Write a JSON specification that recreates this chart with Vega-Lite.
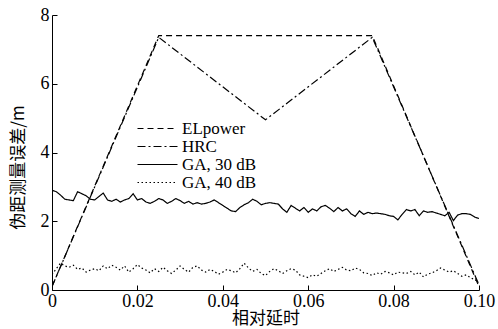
{
  "$schema": "https://vega.github.io/schema/vega-lite/v6.json",
  "width": 427,
  "height": 275,
  "autosize": {"type": "none"},
  "padding": {"left": 52, "top": 15, "right": 19, "bottom": 39},
  "background": "white",
  "config": {
    "view": {"stroke": null},
    "font": "Liberation Serif",
    "axis": {"grid": false, "domainColor": "black", "tickColor": "black", "labelColor": "black", "titleColor": "black", "labelFont": "Liberation Serif", "labelFontSize": 18, "titleFont": "Noto Sans CJK SC", "titleFontSize": 17, "titleFontWeight": "normal", "tickSize": -5, "domainWidth": 1, "tickWidth": 1}
  },
  "datasets": {
    "curves": [
      {"series": "ELpower", "delay": 0, "error": 0.1},
      {"series": "ELpower", "delay": 0.025, "error": 7.4},
      {"series": "ELpower", "delay": 0.075, "error": 7.4},
      {"series": "ELpower", "delay": 0.1, "error": 0.1},
      {"series": "HRC", "delay": 0, "error": 0.1},
      {"series": "HRC", "delay": 0.025, "error": 7.35},
      {"series": "HRC", "delay": 0.05, "error": 4.95},
      {"series": "HRC", "delay": 0.075, "error": 7.35},
      {"series": "HRC", "delay": 0.1, "error": 0.15},
      {"series": "GA, 30 dB", "delay": 0.000, "error": 2.90},
      {"series": "GA, 30 dB", "delay": 0.001, "error": 2.86},
      {"series": "GA, 30 dB", "delay": 0.002, "error": 2.76},
      {"series": "GA, 30 dB", "delay": 0.003, "error": 2.64},
      {"series": "GA, 30 dB", "delay": 0.004, "error": 2.62},
      {"series": "GA, 30 dB", "delay": 0.005, "error": 2.60},
      {"series": "GA, 30 dB", "delay": 0.006, "error": 2.86},
      {"series": "GA, 30 dB", "delay": 0.007, "error": 2.80},
      {"series": "GA, 30 dB", "delay": 0.008, "error": 2.74},
      {"series": "GA, 30 dB", "delay": 0.009, "error": 2.64},
      {"series": "GA, 30 dB", "delay": 0.010, "error": 2.62},
      {"series": "GA, 30 dB", "delay": 0.011, "error": 2.72},
      {"series": "GA, 30 dB", "delay": 0.012, "error": 2.82},
      {"series": "GA, 30 dB", "delay": 0.013, "error": 2.62},
      {"series": "GA, 30 dB", "delay": 0.014, "error": 2.58},
      {"series": "GA, 30 dB", "delay": 0.015, "error": 2.64},
      {"series": "GA, 30 dB", "delay": 0.016, "error": 2.56},
      {"series": "GA, 30 dB", "delay": 0.017, "error": 2.62},
      {"series": "GA, 30 dB", "delay": 0.018, "error": 2.66},
      {"series": "GA, 30 dB", "delay": 0.019, "error": 2.80},
      {"series": "GA, 30 dB", "delay": 0.020, "error": 2.62},
      {"series": "GA, 30 dB", "delay": 0.021, "error": 2.66},
      {"series": "GA, 30 dB", "delay": 0.022, "error": 2.56},
      {"series": "GA, 30 dB", "delay": 0.023, "error": 2.52},
      {"series": "GA, 30 dB", "delay": 0.024, "error": 2.58},
      {"series": "GA, 30 dB", "delay": 0.025, "error": 2.66},
      {"series": "GA, 30 dB", "delay": 0.026, "error": 2.62},
      {"series": "GA, 30 dB", "delay": 0.027, "error": 2.52},
      {"series": "GA, 30 dB", "delay": 0.028, "error": 2.58},
      {"series": "GA, 30 dB", "delay": 0.029, "error": 2.66},
      {"series": "GA, 30 dB", "delay": 0.030, "error": 2.60},
      {"series": "GA, 30 dB", "delay": 0.031, "error": 2.52},
      {"series": "GA, 30 dB", "delay": 0.032, "error": 2.58},
      {"series": "GA, 30 dB", "delay": 0.033, "error": 2.50},
      {"series": "GA, 30 dB", "delay": 0.034, "error": 2.54},
      {"series": "GA, 30 dB", "delay": 0.035, "error": 2.50},
      {"series": "GA, 30 dB", "delay": 0.036, "error": 2.52},
      {"series": "GA, 30 dB", "delay": 0.037, "error": 2.56},
      {"series": "GA, 30 dB", "delay": 0.038, "error": 2.62},
      {"series": "GA, 30 dB", "delay": 0.039, "error": 2.54},
      {"series": "GA, 30 dB", "delay": 0.040, "error": 2.46},
      {"series": "GA, 30 dB", "delay": 0.041, "error": 2.38},
      {"series": "GA, 30 dB", "delay": 0.042, "error": 2.30},
      {"series": "GA, 30 dB", "delay": 0.043, "error": 2.28},
      {"series": "GA, 30 dB", "delay": 0.044, "error": 2.40},
      {"series": "GA, 30 dB", "delay": 0.045, "error": 2.48},
      {"series": "GA, 30 dB", "delay": 0.046, "error": 2.54},
      {"series": "GA, 30 dB", "delay": 0.047, "error": 2.64},
      {"series": "GA, 30 dB", "delay": 0.048, "error": 2.58},
      {"series": "GA, 30 dB", "delay": 0.049, "error": 2.48},
      {"series": "GA, 30 dB", "delay": 0.050, "error": 2.52},
      {"series": "GA, 30 dB", "delay": 0.051, "error": 2.54},
      {"series": "GA, 30 dB", "delay": 0.052, "error": 2.52},
      {"series": "GA, 30 dB", "delay": 0.053, "error": 2.50},
      {"series": "GA, 30 dB", "delay": 0.054, "error": 2.36},
      {"series": "GA, 30 dB", "delay": 0.055, "error": 2.26},
      {"series": "GA, 30 dB", "delay": 0.056, "error": 2.46},
      {"series": "GA, 30 dB", "delay": 0.057, "error": 2.38},
      {"series": "GA, 30 dB", "delay": 0.058, "error": 2.30},
      {"series": "GA, 30 dB", "delay": 0.059, "error": 2.40},
      {"series": "GA, 30 dB", "delay": 0.060, "error": 2.26},
      {"series": "GA, 30 dB", "delay": 0.061, "error": 2.36},
      {"series": "GA, 30 dB", "delay": 0.062, "error": 2.30},
      {"series": "GA, 30 dB", "delay": 0.063, "error": 2.42},
      {"series": "GA, 30 dB", "delay": 0.064, "error": 2.46},
      {"series": "GA, 30 dB", "delay": 0.065, "error": 2.38},
      {"series": "GA, 30 dB", "delay": 0.066, "error": 2.28},
      {"series": "GA, 30 dB", "delay": 0.067, "error": 2.40},
      {"series": "GA, 30 dB", "delay": 0.068, "error": 2.30},
      {"series": "GA, 30 dB", "delay": 0.069, "error": 2.36},
      {"series": "GA, 30 dB", "delay": 0.070, "error": 2.22},
      {"series": "GA, 30 dB", "delay": 0.071, "error": 2.14},
      {"series": "GA, 30 dB", "delay": 0.072, "error": 2.30},
      {"series": "GA, 30 dB", "delay": 0.073, "error": 2.20},
      {"series": "GA, 30 dB", "delay": 0.074, "error": 2.26},
      {"series": "GA, 30 dB", "delay": 0.075, "error": 2.22},
      {"series": "GA, 30 dB", "delay": 0.076, "error": 2.24},
      {"series": "GA, 30 dB", "delay": 0.077, "error": 2.22},
      {"series": "GA, 30 dB", "delay": 0.078, "error": 2.20},
      {"series": "GA, 30 dB", "delay": 0.079, "error": 2.16},
      {"series": "GA, 30 dB", "delay": 0.080, "error": 2.14},
      {"series": "GA, 30 dB", "delay": 0.081, "error": 2.04},
      {"series": "GA, 30 dB", "delay": 0.082, "error": 2.20},
      {"series": "GA, 30 dB", "delay": 0.083, "error": 2.34},
      {"series": "GA, 30 dB", "delay": 0.084, "error": 2.30},
      {"series": "GA, 30 dB", "delay": 0.085, "error": 2.34},
      {"series": "GA, 30 dB", "delay": 0.086, "error": 2.16},
      {"series": "GA, 30 dB", "delay": 0.087, "error": 2.30},
      {"series": "GA, 30 dB", "delay": 0.088, "error": 2.26},
      {"series": "GA, 30 dB", "delay": 0.089, "error": 2.28},
      {"series": "GA, 30 dB", "delay": 0.090, "error": 2.24},
      {"series": "GA, 30 dB", "delay": 0.091, "error": 2.20},
      {"series": "GA, 30 dB", "delay": 0.092, "error": 2.16},
      {"series": "GA, 30 dB", "delay": 0.093, "error": 2.26},
      {"series": "GA, 30 dB", "delay": 0.094, "error": 2.02},
      {"series": "GA, 30 dB", "delay": 0.095, "error": 2.18},
      {"series": "GA, 30 dB", "delay": 0.096, "error": 2.22},
      {"series": "GA, 30 dB", "delay": 0.097, "error": 2.22},
      {"series": "GA, 30 dB", "delay": 0.098, "error": 2.20},
      {"series": "GA, 30 dB", "delay": 0.099, "error": 2.12},
      {"series": "GA, 30 dB", "delay": 0.100, "error": 2.08},
      {"series": "GA, 40 dB", "delay": 0.000, "error": 0.45},
      {"series": "GA, 40 dB", "delay": 0.001, "error": 0.62},
      {"series": "GA, 40 dB", "delay": 0.002, "error": 0.78},
      {"series": "GA, 40 dB", "delay": 0.003, "error": 0.70},
      {"series": "GA, 40 dB", "delay": 0.004, "error": 0.66},
      {"series": "GA, 40 dB", "delay": 0.005, "error": 0.72},
      {"series": "GA, 40 dB", "delay": 0.006, "error": 0.60},
      {"series": "GA, 40 dB", "delay": 0.007, "error": 0.64},
      {"series": "GA, 40 dB", "delay": 0.008, "error": 0.52},
      {"series": "GA, 40 dB", "delay": 0.009, "error": 0.58},
      {"series": "GA, 40 dB", "delay": 0.010, "error": 0.62},
      {"series": "GA, 40 dB", "delay": 0.011, "error": 0.56},
      {"series": "GA, 40 dB", "delay": 0.012, "error": 0.70},
      {"series": "GA, 40 dB", "delay": 0.013, "error": 0.62},
      {"series": "GA, 40 dB", "delay": 0.014, "error": 0.72},
      {"series": "GA, 40 dB", "delay": 0.015, "error": 0.66},
      {"series": "GA, 40 dB", "delay": 0.016, "error": 0.58},
      {"series": "GA, 40 dB", "delay": 0.017, "error": 0.70},
      {"series": "GA, 40 dB", "delay": 0.018, "error": 0.52},
      {"series": "GA, 40 dB", "delay": 0.019, "error": 0.62},
      {"series": "GA, 40 dB", "delay": 0.020, "error": 0.74},
      {"series": "GA, 40 dB", "delay": 0.021, "error": 0.64},
      {"series": "GA, 40 dB", "delay": 0.022, "error": 0.58},
      {"series": "GA, 40 dB", "delay": 0.023, "error": 0.50},
      {"series": "GA, 40 dB", "delay": 0.024, "error": 0.62},
      {"series": "GA, 40 dB", "delay": 0.025, "error": 0.54},
      {"series": "GA, 40 dB", "delay": 0.026, "error": 0.66},
      {"series": "GA, 40 dB", "delay": 0.027, "error": 0.56},
      {"series": "GA, 40 dB", "delay": 0.028, "error": 0.48},
      {"series": "GA, 40 dB", "delay": 0.029, "error": 0.58},
      {"series": "GA, 40 dB", "delay": 0.030, "error": 0.70},
      {"series": "GA, 40 dB", "delay": 0.031, "error": 0.60},
      {"series": "GA, 40 dB", "delay": 0.032, "error": 0.52},
      {"series": "GA, 40 dB", "delay": 0.033, "error": 0.66},
      {"series": "GA, 40 dB", "delay": 0.034, "error": 0.70},
      {"series": "GA, 40 dB", "delay": 0.035, "error": 0.58},
      {"series": "GA, 40 dB", "delay": 0.036, "error": 0.52},
      {"series": "GA, 40 dB", "delay": 0.037, "error": 0.60},
      {"series": "GA, 40 dB", "delay": 0.038, "error": 0.54},
      {"series": "GA, 40 dB", "delay": 0.039, "error": 0.46},
      {"series": "GA, 40 dB", "delay": 0.040, "error": 0.52},
      {"series": "GA, 40 dB", "delay": 0.041, "error": 0.60},
      {"series": "GA, 40 dB", "delay": 0.042, "error": 0.56},
      {"series": "GA, 40 dB", "delay": 0.043, "error": 0.50},
      {"series": "GA, 40 dB", "delay": 0.044, "error": 0.62},
      {"series": "GA, 40 dB", "delay": 0.045, "error": 0.78},
      {"series": "GA, 40 dB", "delay": 0.046, "error": 0.64},
      {"series": "GA, 40 dB", "delay": 0.047, "error": 0.54},
      {"series": "GA, 40 dB", "delay": 0.048, "error": 0.60},
      {"series": "GA, 40 dB", "delay": 0.049, "error": 0.48},
      {"series": "GA, 40 dB", "delay": 0.050, "error": 0.42},
      {"series": "GA, 40 dB", "delay": 0.051, "error": 0.54},
      {"series": "GA, 40 dB", "delay": 0.052, "error": 0.62},
      {"series": "GA, 40 dB", "delay": 0.053, "error": 0.56},
      {"series": "GA, 40 dB", "delay": 0.054, "error": 0.48},
      {"series": "GA, 40 dB", "delay": 0.055, "error": 0.56},
      {"series": "GA, 40 dB", "delay": 0.056, "error": 0.62},
      {"series": "GA, 40 dB", "delay": 0.057, "error": 0.58},
      {"series": "GA, 40 dB", "delay": 0.058, "error": 0.44},
      {"series": "GA, 40 dB", "delay": 0.059, "error": 0.40},
      {"series": "GA, 40 dB", "delay": 0.060, "error": 0.36},
      {"series": "GA, 40 dB", "delay": 0.061, "error": 0.44},
      {"series": "GA, 40 dB", "delay": 0.062, "error": 0.40},
      {"series": "GA, 40 dB", "delay": 0.063, "error": 0.48},
      {"series": "GA, 40 dB", "delay": 0.064, "error": 0.56},
      {"series": "GA, 40 dB", "delay": 0.065, "error": 0.62},
      {"series": "GA, 40 dB", "delay": 0.066, "error": 0.54},
      {"series": "GA, 40 dB", "delay": 0.067, "error": 0.60},
      {"series": "GA, 40 dB", "delay": 0.068, "error": 0.66},
      {"series": "GA, 40 dB", "delay": 0.069, "error": 0.58},
      {"series": "GA, 40 dB", "delay": 0.070, "error": 0.56},
      {"series": "GA, 40 dB", "delay": 0.071, "error": 0.64},
      {"series": "GA, 40 dB", "delay": 0.072, "error": 0.60},
      {"series": "GA, 40 dB", "delay": 0.073, "error": 0.50},
      {"series": "GA, 40 dB", "delay": 0.074, "error": 0.48},
      {"series": "GA, 40 dB", "delay": 0.075, "error": 0.42},
      {"series": "GA, 40 dB", "delay": 0.076, "error": 0.50},
      {"series": "GA, 40 dB", "delay": 0.077, "error": 0.46},
      {"series": "GA, 40 dB", "delay": 0.078, "error": 0.54},
      {"series": "GA, 40 dB", "delay": 0.079, "error": 0.50},
      {"series": "GA, 40 dB", "delay": 0.080, "error": 0.44},
      {"series": "GA, 40 dB", "delay": 0.081, "error": 0.52},
      {"series": "GA, 40 dB", "delay": 0.082, "error": 0.50},
      {"series": "GA, 40 dB", "delay": 0.083, "error": 0.48},
      {"series": "GA, 40 dB", "delay": 0.084, "error": 0.54},
      {"series": "GA, 40 dB", "delay": 0.085, "error": 0.44},
      {"series": "GA, 40 dB", "delay": 0.086, "error": 0.52},
      {"series": "GA, 40 dB", "delay": 0.087, "error": 0.38},
      {"series": "GA, 40 dB", "delay": 0.088, "error": 0.46},
      {"series": "GA, 40 dB", "delay": 0.089, "error": 0.50},
      {"series": "GA, 40 dB", "delay": 0.090, "error": 0.56},
      {"series": "GA, 40 dB", "delay": 0.091, "error": 0.64},
      {"series": "GA, 40 dB", "delay": 0.092, "error": 0.58},
      {"series": "GA, 40 dB", "delay": 0.093, "error": 0.52},
      {"series": "GA, 40 dB", "delay": 0.094, "error": 0.56},
      {"series": "GA, 40 dB", "delay": 0.095, "error": 0.48},
      {"series": "GA, 40 dB", "delay": 0.096, "error": 0.40},
      {"series": "GA, 40 dB", "delay": 0.097, "error": 0.44},
      {"series": "GA, 40 dB", "delay": 0.098, "error": 0.36},
      {"series": "GA, 40 dB", "delay": 0.099, "error": 0.30},
      {"series": "GA, 40 dB", "delay": 0.100, "error": 0.22}
    ]
  },
  "data": {"name": "curves"},
  "mark": {"type": "line", "color": "black", "clip": true},
  "encoding": {
    "x": {
      "field": "delay", "type": "quantitative",
      "scale": {"domain": [0, 0.1], "nice": false, "zero": false},
      "axis": {"title": "相对延时", "values": [0, 0.02, 0.04, 0.06, 0.08, 0.1], "labelExpr": "datum.value == 0 ? '0' : format(datum.value, '.2f')", "labelPadding": 7, "titleY": 28, "titleBaseline": "middle", "labelFlush": false}
    },
    "y": {
      "field": "error", "type": "quantitative",
      "scale": {"domain": [0, 8], "nice": false},
      "axis": {"title": "伪距测量误差/m", "values": [0, 2, 4, 6, 8], "labelPadding": 8, "titleX": -34, "titleY": 152, "titleAngle": -90, "titleBaseline": "middle"}
    },
    "strokeDash": {
      "field": "series", "type": "nominal",
      "scale": {"domain": ["ELpower", "HRC", "GA, 30 dB", "GA, 40 dB"], "range": [[6, 4], [8, 3, 2, 3], [1, 0], [1.5, 2.5]]},
      "legend": {
        "title": null, "orient": "none", "legendX": 97, "legendY": 105,
        "symbolType": "M-8,0H8", "symbolSize": 25, "symbolStrokeColor": "black",
        "labelFont": "Liberation Serif", "labelFontSize": 17, "labelColor": "black", "rowPadding": 0, "labelOffset": 16,
        "encode": {"symbols": {"update": {"strokeWidth": {"signal": "datum.value == 'GA, 30 dB' ? 2.6 : 1.2"}}}}
      }
    },
    "strokeWidth": {
      "field": "series", "type": "ordinal",
      "scale": {"domain": ["ELpower", "HRC", "GA, 30 dB", "GA, 40 dB"], "range": [1.2, 1.2, 2.8, 1.5]},
      "legend": null
    }
  }
}
